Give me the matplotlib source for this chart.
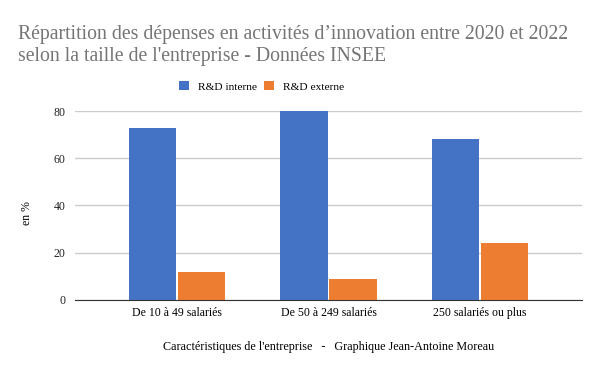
import numpy as np
import matplotlib.pyplot as plt

plt.rcParams['font.family'] = ['Liberation Serif', 'DejaVu Serif']

categories = ['De 10 à 49 salariés', 'De 50 à 249 salariés', '250 salariés ou plus']
rd_interne = [73, 80, 68]
rd_externe = [12, 9, 24]
series_names = ['R&D interne', 'R&D externe']
colors = ['#4472C4', '#ED7D31']

fig = plt.figure(figsize=(6, 3.71), dpi=100)
ax = fig.add_axes([0.125, 0.1914, 0.845, 0.5094])

x = np.arange(len(categories))
w = 0.311
off = 0.162
b1 = ax.bar(x - off, rd_interne, w, color=colors[0], label=series_names[0], zorder=3)
b2 = ax.bar(x + off, rd_externe, w, color=colors[1], label=series_names[1], zorder=3)

ax.set_xlim(-0.675, 2.675)
ax.set_ylim(0, 80)
ax.set_yticks([0, 20, 40, 60, 80])
ax.yaxis.grid(True, color='#cccccc', linewidth=1, zorder=0)
ax.set_xticks(x)
ax.set_xticklabels(categories, fontsize=8.5)
ax.tick_params(axis='y', labelsize=8.5, length=0, pad=7, labelcolor='#222222')
ax.tick_params(axis='x', length=0, pad=5)
for s in ['top', 'right', 'left']:
    ax.spines[s].set_visible(False)
ax.spines['bottom'].set_color('#333333')
ax.spines['bottom'].set_zorder(4)

ax.set_ylabel('en %', fontsize=8.5)
ax.yaxis.set_label_coords(-0.083, 0.46)
ax.set_xlabel("Caractéristiques de l'entreprise   -   Graphique Jean-Antoine Moreau",
              fontsize=8.7, labelpad=16)

fig.text(0.03, 0.878, "Répartition des dépenses en activités d’innovation entre 2020 et 2022\n"
         "selon la taille de l'entreprise - Données INSEE",
         fontsize=14.2, color='#757575', ha='left', va='center', linespacing=1.2)

fig.legend(handles=[b1, b2], loc='center', bbox_to_anchor=(0.436, 0.767), ncol=2,
           frameon=False, fontsize=8.2, handlelength=0.85, handleheight=0.85,
           columnspacing=0.6, handletextpad=0.8)

fig.savefig('out.png', dpi=100)
